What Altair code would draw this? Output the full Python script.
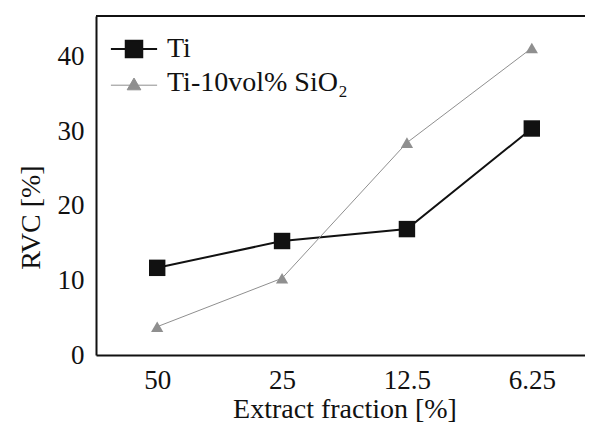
import altair as alt
import pandas as pd

fractions = ["50", "25", "12.5", "6.25"]
series_names = ["Ti", "Ti-10vol% SiO₂"]
ti_values = [11.7, 15.3, 16.9, 30.4]
sio2_values = [3.8, 10.3, 28.5, 41.2]
y_ticks = [0, 10, 20, 30, 40]

rows = []
for f, v in zip(fractions, ti_values):
    rows.append({"fraction": f, "series": series_names[0], "rvc": v})
for f, v in zip(fractions, sio2_values):
    rows.append({"fraction": f, "series": series_names[1], "rvc": v})
df = pd.DataFrame(rows)
df["marker"] = df["series"]

FONT = "Liberation Serif"
W, H = 497, 339
YMAX = 45.5
COLORS = ["#111111", "#8f8f8f"]

SHAPE_EXPR = ("datum.value == 'Ti' ? 'M-2.1,0H2.1M-0.75,-0.75H0.75V0.75H-0.75Z' "
              ": 'M-2.1,0.2H2.1M0,-0.45L0.62,0.62L-0.62,0.62Z'")
COLOR_EXPR = "datum.value == 'Ti' ? '#111111' : '#8f8f8f'"
WIDTH_EXPR = "datum.value == 'Ti' ? 2 : 1"


def build(use_encode):
    x = alt.X("fraction:N", sort=fractions,
              scale=alt.Scale(type="point", padding=0.49),
              axis=alt.Axis(title="Extract fraction [%]", labelAngle=0, ticks=False,
                            labelPadding=12, titlePadding=2))
    y = alt.Y("rvc:Q", scale=alt.Scale(domain=[0, YMAX], nice=False, zero=True),
              axis=alt.Axis(title="RVC [%]", values=y_ticks, ticks=False, grid=False,
                            labelPadding=12, titlePadding=12, titleY=201))
    legend_kw = dict(
        title=None, orient="none", legendX=17, legendY=19, padding=0,
        symbolSize=484, rowPadding=6, labelOffset=19, symbolOffset=7,
        labelLimit=400, labelFont=FONT, labelFontSize=28, labelColor="#111111",
        symbolType=alt.ExprRef(SHAPE_EXPR),
        symbolStrokeWidth=alt.ExprRef(WIDTH_EXPR),
        symbolStrokeColor=alt.ExprRef(COLOR_EXPR),
        symbolFillColor=alt.ExprRef(COLOR_EXPR),
    )
    if use_encode:
        legend_kw["encode"] = {"symbols": {
            "shape": {"value": {"expr": SHAPE_EXPR}},
            "stroke": {"value": {"expr": COLOR_EXPR}},
            "fill": {"value": {"expr": COLOR_EXPR}},
            "strokeWidth": {"value": {"expr": WIDTH_EXPR}},
        }}
    legend = alt.Legend(**legend_kw)
    scale = alt.Scale(domain=series_names, range=COLORS)

    lines = alt.Chart(df).mark_line().encode(
        x=x, y=y,
        stroke=alt.Stroke("series:N", sort=series_names, scale=scale, legend=legend),
        strokeWidth=alt.StrokeWidth("series:N", sort=series_names,
                                    scale=alt.Scale(domain=series_names, range=[2, 1]),
                                    legend=None),
    )

    color = alt.Color("marker:N", sort=series_names, scale=scale, legend=None)
    squares = alt.Chart(df).transform_filter(
        alt.datum.series == series_names[0]
    ).mark_point(filled=True, opacity=1, shape="square", size=270).encode(
        x=x, y=y, color=color)
    triangles = alt.Chart(df).transform_filter(
        alt.datum.series == series_names[1]
    ).mark_point(filled=True, opacity=1, shape="triangle-up", size=150).encode(
        x=x, y=y, color=color)

    top_border = alt.Chart(pd.DataFrame({"v": [YMAX]})).mark_rule(
        color="#111111", strokeWidth=2).encode(y=alt.Y("v:Q"))

    return alt.layer(lines, squares, triangles, top_border).properties(
        width=W, height=H,
        autosize=alt.AutoSizeParams(type="none"),
        padding={"left": 88, "top": 8, "right": -8, "bottom": 69},
    ).configure_view(strokeWidth=0, stroke="transparent").configure_axis(
        labelFont=FONT, titleFont=FONT, labelFontSize=27, titleFontSize=28,
        labelColor="#111111", titleColor="#111111", titleFontWeight="normal",
        domainColor="#111111", domainWidth=2,
    ).configure_legend(
        labelFont=FONT, labelFontSize=28, labelColor="#111111",
    )


try:
    chart = build(True)
    chart.to_dict()
except Exception:
    chart = build(False)

chart.save("out.html", embed_options={"renderer": "svg", "actions": False})
